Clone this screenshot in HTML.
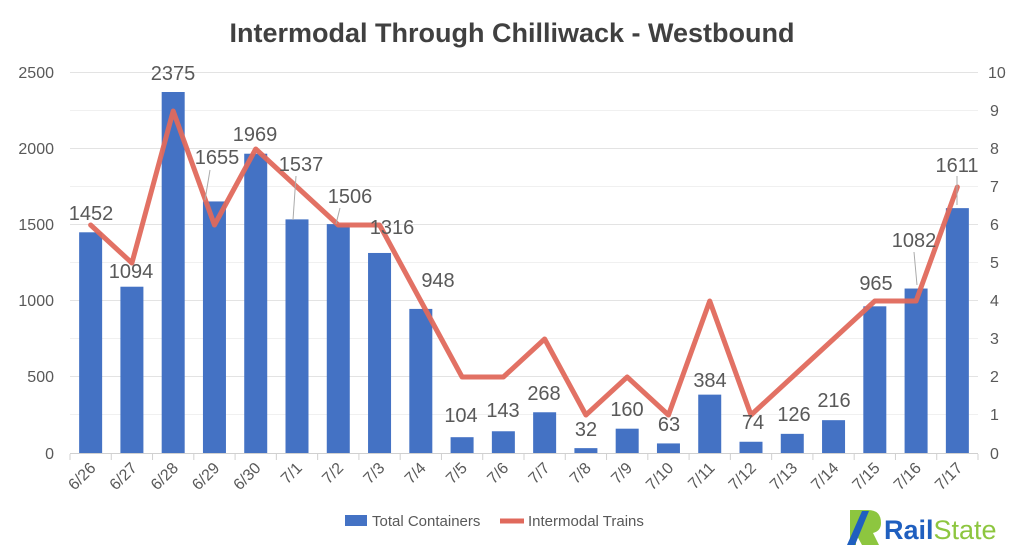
<!DOCTYPE html>
<html><head><meta charset="utf-8"><style>
body{margin:0;background:#fff;}
svg{display:block;font-family:"Liberation Sans",sans-serif;}
</style></head><body>
<svg width="1024" height="553" xmlns="http://www.w3.org/2000/svg">
<rect width="1024" height="553" fill="#fff"/>
<text x="512" y="42" text-anchor="middle" font-size="27" font-weight="bold" fill="#404040">Intermodal Through Chilliwack - Westbound</text>
<g stroke="#e3e3e3" stroke-width="1">
<line x1="70" x2="978" y1="72.5" y2="72.5"/><line x1="70" x2="978" y1="148.5" y2="148.5"/>
<line x1="70" x2="978" y1="224.5" y2="224.5"/><line x1="70" x2="978" y1="300.5" y2="300.5"/>
<line x1="70" x2="978" y1="376.5" y2="376.5"/>
<line x1="70" x2="978" y1="110.5" y2="110.5" stroke="#f0f0f0"/>
<line x1="70" x2="978" y1="186.5" y2="186.5" stroke="#f0f0f0"/>
<line x1="70" x2="978" y1="262.5" y2="262.5" stroke="#f0f0f0"/>
<line x1="70" x2="978" y1="338.5" y2="338.5" stroke="#f0f0f0"/>
<line x1="70" x2="978" y1="414.5" y2="414.5" stroke="#f0f0f0"/>
</g>
<line x1="70" x2="978" y1="453.5" y2="453.5" stroke="#d0d0d0"/>
<g id="ticks" stroke="#d0d0d0"></g>
<g font-size="16" fill="#595959" text-anchor="end">
<text x="54" y="78">2500</text><text x="54" y="154">2000</text><text x="54" y="230">1500</text>
<text x="54" y="306">1000</text><text x="54" y="382">500</text><text x="54" y="459">0</text>
</g>
<g font-size="16" fill="#595959">
<text x="988" y="78">10</text><text x="990" y="116">9</text><text x="990" y="154">8</text><text x="990" y="192">7</text>
<text x="990" y="230">6</text><text x="990" y="268">5</text><text x="990" y="306">4</text><text x="990" y="344">3</text>
<text x="990" y="382">2</text><text x="990" y="420">1</text><text x="990" y="459">0</text>
</g>
<g id="bars"></g>
<g id="xl" font-size="16" fill="#595959"></g>
<polyline id="line" fill="none" stroke="#E0695C" stroke-width="5" stroke-linejoin="round" stroke-linecap="round" opacity="0.95"/>
<g font-size="20" fill="#595959" text-anchor="middle">
<text x="91" y="220">1452</text><text x="131" y="278">1094</text><text x="173" y="80">2375</text>
<text x="217" y="164">1655</text><text x="255" y="141">1969</text><text x="301" y="171">1537</text>
<text x="350" y="203">1506</text><text x="392" y="234">1316</text><text x="438" y="287">948</text>
<text x="461" y="422">104</text><text x="503" y="417">143</text><text x="544" y="400">268</text>
<text x="586" y="436">32</text><text x="627" y="416">160</text><text x="669" y="431">63</text>
<text x="710" y="387">384</text><text x="753" y="429">74</text><text x="794" y="421">126</text>
<text x="834" y="407">216</text><text x="876" y="290">965</text><text x="914" y="247">1082</text>
<text x="957" y="172">1611</text>
</g>
<g stroke="#aaa" stroke-width="1">
<line x1="210" y1="170" x2="205" y2="200"/><line x1="296" y1="176" x2="293" y2="220"/>
<line x1="340" y1="208" x2="336" y2="224"/><line x1="914" y1="252" x2="917" y2="285"/>
<line x1="957" y1="176" x2="957" y2="205"/>
</g>
<rect x="345" y="515" width="22" height="11" fill="#4472C4"/>
<text x="372" y="526" font-size="15" fill="#595959">Total Containers</text>
<line x1="500" y1="521" x2="524" y2="521" stroke="#E0695C" stroke-width="5"/>
<text x="528" y="526" font-size="15" fill="#595959">Intermodal Trains</text>
<g transform="translate(846,510)">
<path d="M4 0 H22 Q35 0 35 13 Q35 21 27 23 L33 35 H16 L10 24 V35 H4 Z" fill="#8DC63F"/>
<path d="M16 1 L1 35 H9 L23 1 Z" fill="#1F5FBF"/>
</g>
<text x="884" y="539" font-size="27" font-weight="bold" fill="#1F5FBF">Rail<tspan fill="#8DC63F" font-weight="normal">State</tspan></text>
<script>
var v=[1452,1094,2375,1655,1969,1537,1506,1316,948,104,143,268,32,160,63,384,74,126,216,965,1082,1611];
var t=[6,5,9,6,8,7,6,6,4,2,2,3,1,2,1,4,1,2,3,4,4,7];
var lab=["6/26","6/27","6/28","6/29","6/30","7/1","7/2","7/3","7/4","7/5","7/6","7/7","7/8","7/9","7/10","7/11","7/12","7/13","7/14","7/15","7/16","7/17"];
var ns="http://www.w3.org/2000/svg",w=(978-70)/22,b=document.getElementById("bars"),xl=document.getElementById("xl"),tk=document.getElementById("ticks"),pts=[];
for(var i=0;i<22;i++){var c=70+w*(i+0.5),h=v[i]*380/2500;
var r=document.createElementNS(ns,"rect");r.setAttribute("x",c-11.5);r.setAttribute("y",453-h);r.setAttribute("width",23);r.setAttribute("height",h);r.setAttribute("fill","#4472C4");b.appendChild(r);
var l=document.createElementNS(ns,"line");var tx=70+w*i;l.setAttribute("x1",tx);l.setAttribute("x2",tx);l.setAttribute("y1",454);l.setAttribute("y2",460);tk.appendChild(l);
var tt=document.createElementNS(ns,"text");tt.setAttribute("text-anchor","end");tt.setAttribute("transform","translate("+(c+6)+",469) rotate(-45)");tt.textContent=lab[i];xl.appendChild(tt);
pts.push(c+","+(453-t[i]*38));}
var l2=document.createElementNS(ns,"line");l2.setAttribute("x1",978);l2.setAttribute("x2",978);l2.setAttribute("y1",454);l2.setAttribute("y2",460);tk.appendChild(l2);
document.getElementById("line").setAttribute("points",pts.join(" "));
</script>
</svg>
</body></html>
